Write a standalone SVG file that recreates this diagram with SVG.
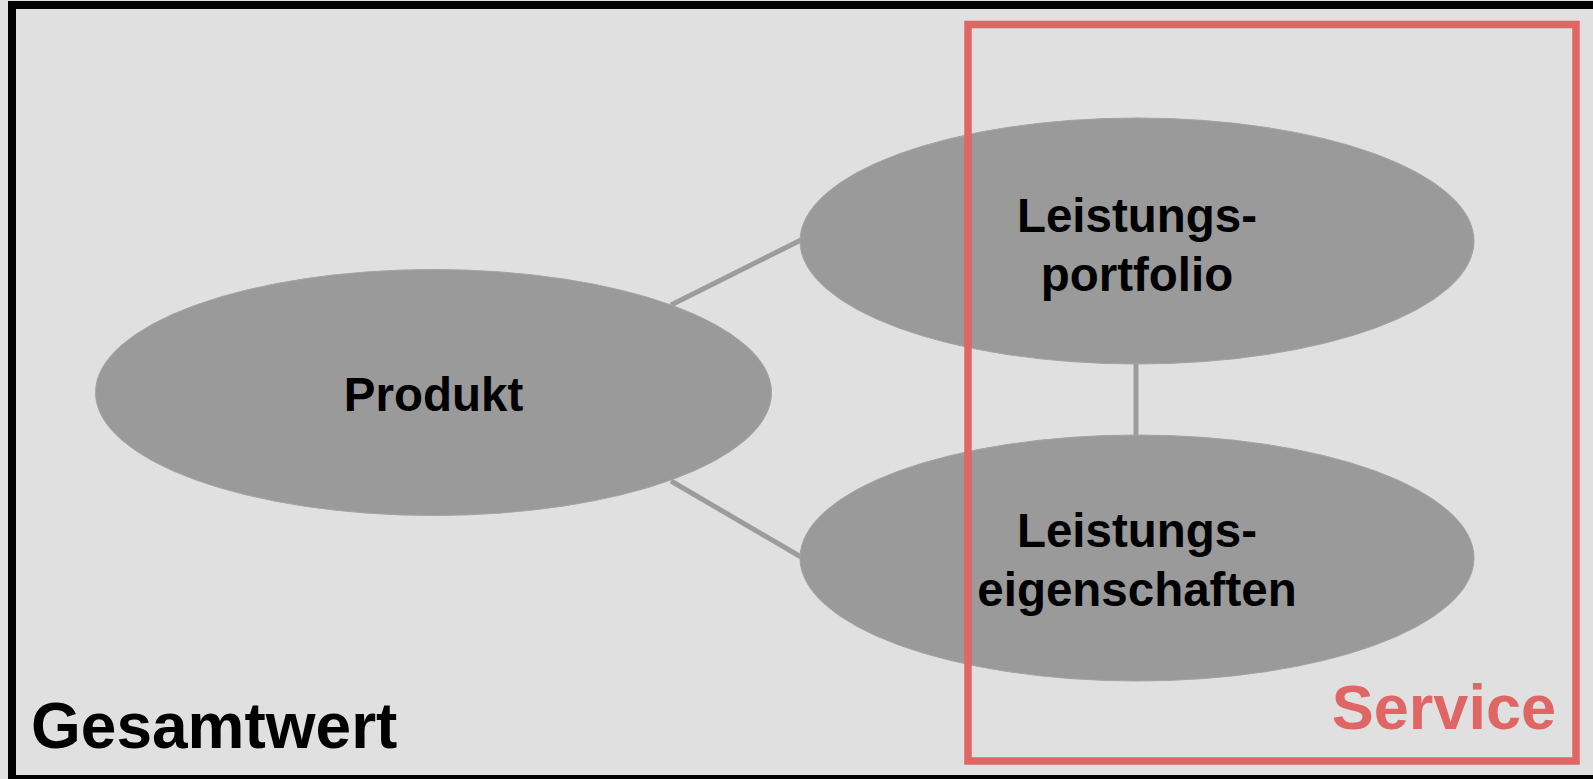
<svg xmlns="http://www.w3.org/2000/svg" width="1593" height="779" viewBox="0 0 1593 779">
<style>
.node{fill:#9a9a9a;stroke:#a4a4a4;stroke-width:1}
.lbl{font-family:"Liberation Sans",Arial,sans-serif;font-weight:bold;font-size:47.5px;fill:#000;text-anchor:middle}
.conn{stroke:#9c9c9c;stroke-width:5;fill:none}
</style>
<rect x="0" y="0" width="1593" height="779" fill="#e0e0e0"/>
<rect id="gesamtwert-frame" x="12" y="5" width="1600" height="774" fill="none" stroke="#000" stroke-width="8"/>
<g id="connectors">
<line class="conn" x1="671" y1="305" x2="801" y2="240"/>
<line class="conn" x1="671" y1="481" x2="801" y2="557"/>
<line class="conn" x1="1136" y1="362" x2="1136" y2="437"/>
</g>
<g id="produkt">
<ellipse class="node" cx="433.5" cy="392.5" rx="338" ry="123"/>
<text class="lbl" x="433.5" y="411">Produkt</text>
</g>
<g id="leistungsportfolio">
<ellipse class="node" cx="1137" cy="241" rx="337" ry="123"/>
<text class="lbl" x="1137" y="232">Leistungs-</text>
<text class="lbl" x="1137" y="291">portfolio</text>
</g>
<g id="leistungseigenschaften">
<ellipse class="node" cx="1137" cy="558" rx="337" ry="123"/>
<text class="lbl" x="1137" y="547">Leistungs-</text>
<text class="lbl" x="1137" y="606">eigenschaften</text>
</g>
<g id="service">
<rect x="968" y="24.5" width="608" height="736.5" fill="none" stroke="#e06666" stroke-width="7.5"/>
<text x="1556" y="729" font-family="Liberation Sans,Arial,sans-serif" font-weight="bold" font-size="63" fill="#e06666" text-anchor="end">Service</text>
</g>
<g id="gesamtwert">
<text x="31" y="748" font-family="Liberation Sans,Arial,sans-serif" font-weight="bold" font-size="64" fill="#000">Gesamtwert</text>
</g>
</svg>
